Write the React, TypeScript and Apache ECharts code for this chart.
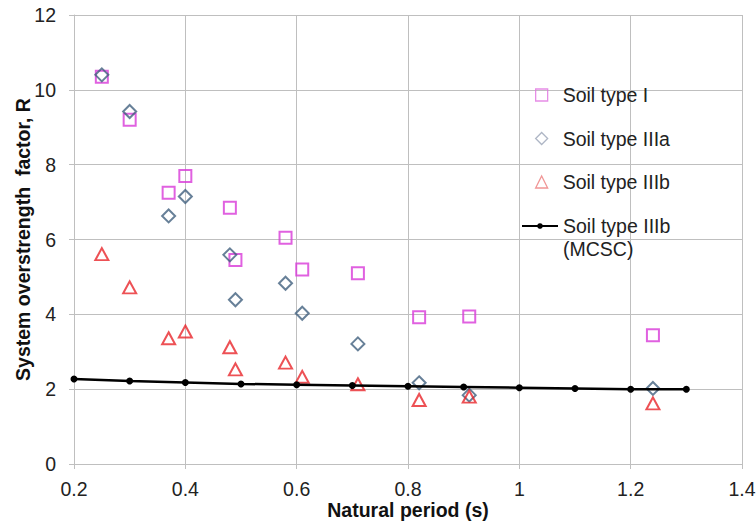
import React, { useEffect, useRef } from "react";
import * as echarts from "echarts";

const xTicks = [0.2, 0.4, 0.6, 0.8, 1, 1.2, 1.4];
const yTicks = [0, 2, 4, 6, 8, 10, 12];

const soilI: [number, number][] = [
  [0.25, 10.35], [0.3, 9.2], [0.37, 7.25], [0.4, 7.7], [0.48, 6.85], [0.49, 5.45],
  [0.58, 6.05], [0.61, 5.2], [0.71, 5.1], [0.82, 3.92], [0.91, 3.94], [1.24, 3.44],
];
const soilIIIa: [number, number][] = [
  [0.25, 10.4], [0.3, 9.42], [0.37, 6.63], [0.4, 7.15], [0.48, 5.59], [0.49, 4.39],
  [0.58, 4.83], [0.61, 4.03], [0.71, 3.21], [0.82, 2.17], [0.91, 1.84], [1.24, 2.02],
];
const soilIIIb: [number, number][] = [
  [0.25, 5.61], [0.3, 4.72], [0.37, 3.36], [0.4, 3.54], [0.48, 3.12], [0.49, 2.53],
  [0.58, 2.71], [0.61, 2.33], [0.71, 2.13], [0.82, 1.71], [0.91, 1.8], [1.24, 1.62],
];
const mcscX = [0.2, 0.3, 0.4, 0.5, 0.6, 0.7, 0.8, 0.9, 1.0, 1.1, 1.2, 1.3];
const mcscY = [2.27, 2.22, 2.18, 2.14, 2.12, 2.1, 2.08, 2.06, 2.04, 2.02, 2.0, 2.0];

const names = ["Soil type I", "Soil type IIIa", "Soil type IIIb", "Soil type IIIb\n(MCSC)"];

export default function App() {
  const ref = useRef<HTMLDivElement>(null);
  useEffect(() => {
    if (!ref.current) return;
    const chart = echarts.init(ref.current, null, { renderer: "svg" });
    const font = "'Liberation Sans', Arial, sans-serif";
    const gridColor = "#bfbfbf";
    chart.setOption({
      animation: false,
      backgroundColor: "#ffffff",
      textStyle: { fontFamily: font },
      grid: { left: 74, right: 14, top: 15, bottom: 59, containLabel: false, outerBoundsMode: "none" },
      xAxis: {
        type: "value",
        min: xTicks[0],
        max: xTicks[xTicks.length - 1],
        interval: 0.2,
        name: "Natural period (s)",
        nameLocation: "middle",
        nameGap: 36,
        nameMoveOverlap: false,
        nameTextStyle: { fontFamily: font, fontSize: 19.5, fontWeight: "bold", color: "#111" },
        axisLine: { show: true, lineStyle: { color: gridColor, width: 1 } },
        axisTick: { show: true, length: 5, lineStyle: { color: gridColor } },
        splitLine: { show: true, lineStyle: { color: gridColor, width: 1 } },
        axisLabel: {
          fontFamily: font,
          fontSize: 19.5,
          color: "#222",
          margin: 15,
          formatter: (v: number) => String(+v.toFixed(1)),
        },
      },
      yAxis: {
        type: "value",
        min: yTicks[0],
        max: yTicks[yTicks.length - 1],
        interval: 2,
        name: "System overstrength  factor, R",
        nameLocation: "middle",
        nameGap: 41,
        nameMoveOverlap: false,
        nameTextStyle: { fontFamily: font, fontSize: 19.5, fontWeight: "bold", color: "#111" },
        axisLine: { show: true, lineStyle: { color: gridColor, width: 1 } },
        axisTick: { show: true, length: 5, lineStyle: { color: gridColor } },
        splitLine: { show: true, lineStyle: { color: gridColor, width: 1 } },
        axisLabel: { fontFamily: font, fontSize: 19.5, color: "#222", margin: 18 },
      },
      legend: [
        {
          data: [
            { name: names[0], itemStyle: { borderColor: "#e070e0" } },
            { name: names[1], itemStyle: { borderColor: "#9aa4b6" } },
            { name: names[2], itemStyle: { borderColor: "#ec7a7a" } },
          ],
          orient: "vertical",
          left: 535,
          top: 85,
          padding: 0,
          itemWidth: 12,
          itemHeight: 12,
          itemGap: 23.5,
          itemStyle: { borderWidth: 1.3 },
          textStyle: { fontFamily: font, fontSize: 19.5, color: "#222", lineHeight: 20, padding: [0, 0, 0, 10] },
        },
        {
          data: [names[3]],
          orient: "vertical",
          left: 521,
          top: 191.5,
          padding: 0,
          itemWidth: 36,
          itemHeight: 7,
          formatter: () => "\nSoil type IIIb\n(MCSC)",
          textStyle: { fontFamily: font, fontSize: 19.5, color: "#222", lineHeight: 23 },
        },
      ],
      series: [
        {
          name: names[0],
          type: "scatter",
          data: soilI,
          symbol: "rect",
          symbolSize: 12,
          itemStyle: { color: "rgba(255,255,255,0)", borderColor: "#d83ad8", borderWidth: 2 },
        },
        {
          name: names[1],
          type: "scatter",
          data: soilIIIa,
          symbol: "diamond",
          symbolSize: 13,
          itemStyle: { color: "rgba(255,255,255,0)", borderColor: "#41607e", borderWidth: 2 },
        },
        {
          name: names[2],
          type: "scatter",
          data: soilIIIb,
          symbol: "triangle",
          symbolSize: [13, 12],
          itemStyle: { color: "rgba(255,255,255,0)", borderColor: "#e8262a", borderWidth: 2 },
        },
        {
          name: names[3],
          type: "line",
          data: mcscX.map((x, i) => [x, mcscY[i]]),
          symbol: "circle",
          symbolSize: 7,
          lineStyle: { color: "#000", width: 2.5 },
          itemStyle: { color: "#000" },
        },
      ],
    });
    return () => chart.dispose();
  }, []);
  return (
    <div
      ref={ref}
      style={{ position: "fixed", left: 0, top: 0, width: 756, height: 523, background: "#fff" }}
    />
  );
}
